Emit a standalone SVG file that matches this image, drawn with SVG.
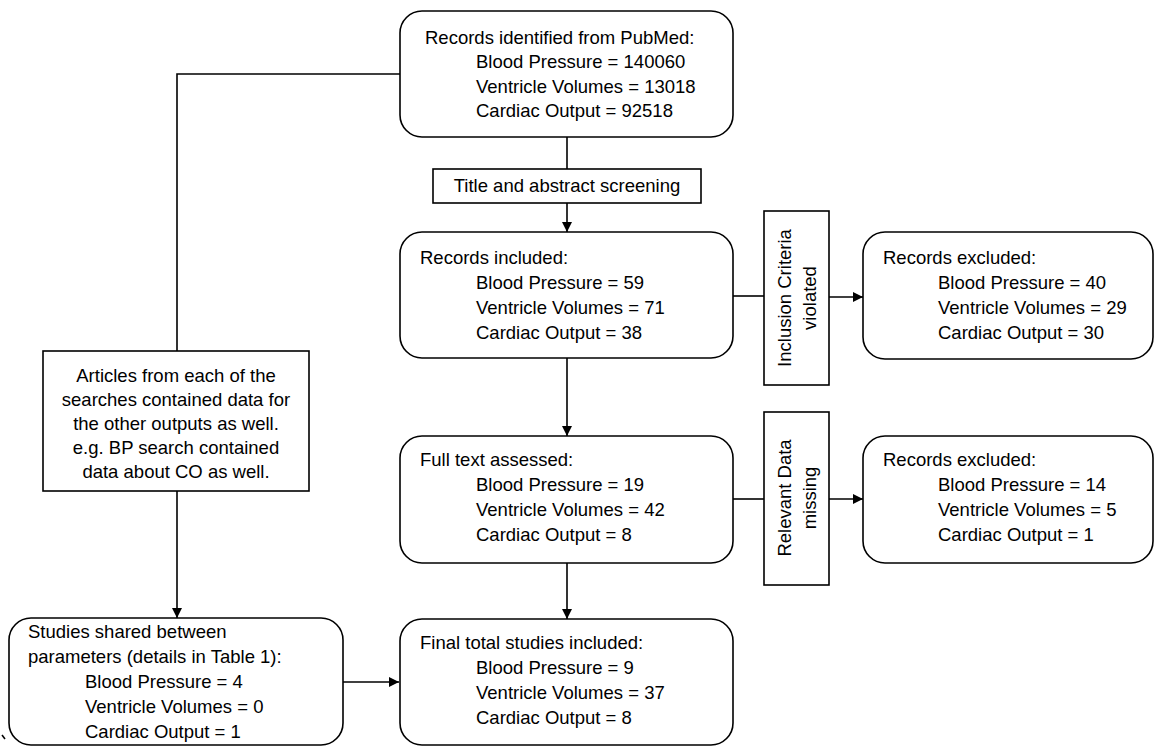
<svg xmlns="http://www.w3.org/2000/svg" width="1154" height="746" viewBox="0 0 1154 746">
<style>
.box{fill:#fff;stroke:#000;stroke-width:1.6}
.ln{fill:none;stroke:#000;stroke-width:1.6}
text{font-family:"Liberation Sans",Arial,sans-serif;font-size:18.5px;fill:#000}
.c{text-anchor:middle}
</style>
<defs>
<marker id="ah" viewBox="0 0 10 10" refX="10" refY="5" markerWidth="10" markerHeight="10" markerUnits="userSpaceOnUse" orient="auto">
<path d="M0,0 L10,5 L0,10 Z" fill="#000"/>
</marker>
</defs>
<rect width="1154" height="746" fill="#fff"/>
<g id="connectors">
<path class="ln" d="M567,137 V169"/>
<path class="ln" d="M567,203 V232" marker-end="url(#ah)"/>
<path class="ln" d="M567,358 V436" marker-end="url(#ah)"/>
<path class="ln" d="M567,563 V619" marker-end="url(#ah)"/>
<path class="ln" d="M733,296 H764"/>
<path class="ln" d="M829,297 H863" marker-end="url(#ah)"/>
<path class="ln" d="M733,499 H764"/>
<path class="ln" d="M829,499 H863" marker-end="url(#ah)"/>
<path class="ln" d="M400,74 H177 V351"/>
<path class="ln" d="M177,491 V618" marker-end="url(#ah)"/>
<path class="ln" d="M343,682 H399" marker-end="url(#ah)"/>
<path class="ln" d="M2,735 L5,739" stroke-width="1"/>
</g>
<g id="n_pubmed">
<rect class="box" x="400" y="11" width="333" height="126" rx="22"/>
<text x="425" y="44">Records identified from PubMed:</text>
<text x="476" y="68">Blood Pressure = 140060</text>
<text x="476" y="93">Ventricle Volumes = 13018</text>
<text x="476" y="117">Cardiac Output = 92518</text>
</g>
<g id="n_screening">
<rect class="box" x="433" y="169" width="268" height="34"/>
<text class="c" x="567" y="192">Title and abstract screening</text>
</g>
<g id="n_included">
<rect class="box" x="400" y="232" width="333" height="126" rx="22"/>
<text x="420" y="264">Records included:</text>
<text x="476" y="289">Blood Pressure = 59</text>
<text x="476" y="314">Ventricle Volumes = 71</text>
<text x="476" y="339">Cardiac Output = 38</text>
</g>
<g id="n_inclusion">
<rect class="box" x="764" y="211" width="65" height="174"/>
<text class="c" transform="translate(791,298) rotate(-90)">Inclusion Criteria</text>
<text class="c" transform="translate(816,298) rotate(-90)">violated</text>
</g>
<g id="n_excluded1">
<rect class="box" x="863" y="232" width="290" height="127" rx="22"/>
<text x="883" y="264">Records excluded:</text>
<text x="938" y="289">Blood Pressure = 40</text>
<text x="938" y="314">Ventricle Volumes = 29</text>
<text x="938" y="339">Cardiac Output = 30</text>
</g>
<g id="n_fulltext">
<rect class="box" x="400" y="436" width="333" height="127" rx="22"/>
<text x="420" y="466">Full text assessed:</text>
<text x="476" y="491">Blood Pressure = 19</text>
<text x="476" y="516">Ventricle Volumes = 42</text>
<text x="476" y="541">Cardiac Output = 8</text>
</g>
<g id="n_relevant">
<rect class="box" x="764" y="412" width="65" height="173"/>
<text class="c" transform="translate(791,498) rotate(-90)">Relevant Data</text>
<text class="c" transform="translate(816,498) rotate(-90)">missing</text>
</g>
<g id="n_excluded2">
<rect class="box" x="863" y="436" width="290" height="127" rx="22"/>
<text x="883" y="466">Records excluded:</text>
<text x="938" y="491">Blood Pressure = 14</text>
<text x="938" y="516">Ventricle Volumes = 5</text>
<text x="938" y="541">Cardiac Output = 1</text>
</g>
<g id="n_final">
<rect class="box" x="400" y="619" width="333" height="126" rx="22"/>
<text x="420" y="649">Final total studies included:</text>
<text x="476" y="674">Blood Pressure = 9</text>
<text x="476" y="699">Ventricle Volumes = 37</text>
<text x="476" y="724">Cardiac Output = 8</text>
</g>
<g id="n_articles">
<rect class="box" x="43" y="351" width="266" height="140"/>
<text class="c" x="176" y="382">Articles from each of the</text>
<text class="c" x="176" y="406">searches contained data for</text>
<text class="c" x="176" y="430">the other outputs as well.</text>
<text class="c" x="176" y="454">e.g. BP search contained</text>
<text class="c" x="176" y="478">data about CO as well.</text>
</g>
<g id="n_shared">
<rect class="box" x="9" y="618" width="334" height="127" rx="22"/>
<text x="28" y="638">Studies shared between</text>
<text x="28" y="663">parameters (details in Table 1):</text>
<text x="85" y="688">Blood Pressure = 4</text>
<text x="85" y="713">Ventricle Volumes = 0</text>
<text x="85" y="738">Cardiac Output = 1</text>
</g>
</svg>
